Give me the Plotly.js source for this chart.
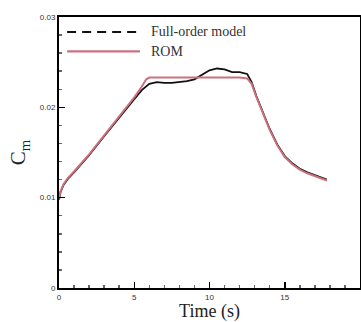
<!DOCTYPE html>
<html><head><meta charset="utf-8">
<script src="https://cdn.plot.ly/plotly-3.0.1.min.js"></script>
<style>html,body{margin:0;padding:0;background:#fff;}#plot{width:361px;height:322px;}</style>
</head><body><div id="plot"></div>
<script>
const tFull = [0, 0.1, 0.3, 0.6, 1.0, 1.5, 2, 3, 4, 4.5, 5, 5.5, 6, 6.5, 7, 7.5, 8, 8.5, 9, 9.5, 10, 10.5, 11, 11.5, 12, 12.5, 12.8, 13.1, 13.5, 14, 14.5, 15, 15.5, 16, 16.5, 17, 17.5, 17.8];
const cmFull = [0.0098, 0.0106, 0.0114, 0.0121, 0.0128, 0.0137, 0.0147, 0.0168, 0.0189, 0.0199, 0.0209, 0.0219, 0.0226, 0.0228, 0.0227, 0.0227, 0.0228, 0.0229, 0.0231, 0.0236, 0.0241, 0.0243, 0.0242, 0.0239, 0.0239, 0.0237, 0.0228, 0.0213, 0.0196, 0.0176, 0.0159, 0.0146, 0.0138, 0.0132, 0.0128, 0.0125, 0.0122, 0.0120];
const tRom = [0, 0.1, 0.3, 0.6, 1.0, 1.5, 2, 3, 4, 4.5, 5, 5.5, 5.8, 6, 7, 8, 9, 10, 11, 12, 12.5, 12.8, 13.1, 13.5, 14, 14.5, 15, 15.5, 16, 16.5, 17, 17.5, 17.8];
const cmRom = [0.0099, 0.0107, 0.0115, 0.0122, 0.0129, 0.0138, 0.0148, 0.0169, 0.0190, 0.0200, 0.0211, 0.0223, 0.0231, 0.0233, 0.0233, 0.0233, 0.0233, 0.0233, 0.0233, 0.0233, 0.0232, 0.0226, 0.0212, 0.0195, 0.0175, 0.0158, 0.0145, 0.0137, 0.0131, 0.0127, 0.0124, 0.0121, 0.0119];
const seriesNames = ["Full-order model", "ROM"];
const xTicks = [0, 5, 10, 15, 20];
const yTicks = [0, 0.01, 0.02, 0.03];
const yTickText = ["0", "0.01", "0.02", "0.03"];

const romColor = "rgb(204,112,128)";
const fullColor = "#111";
const serif = "Liberation Serif, Times New Roman, serif";
const traces = [
  {x: tFull, y: cmFull, mode: "lines", name: seriesNames[0], line: {color: fullColor, width: 1.8}, showlegend: false},
  {x: tRom, y: cmRom, mode: "lines", name: seriesNames[1], line: {color: romColor, width: 2}, showlegend: false}
];
const axisCommon = {
  showline: true, mirror: true, linecolor: "#000", linewidth: 2,
  ticks: "inside", ticklen: 6, tickwidth: 1.5, tickcolor: "#000",
  showgrid: false, zeroline: false,
  minor: {ticks: "inside", ticklen: 3, tickcolor: "#666", nticks: 5},
  tickfont: {family: "Liberation Sans, Arial, sans-serif", size: 8, color: "#333"}
};
// legend drawn as decoration in paper coordinates
const legRows = [0.945, 0.873];
const legendShapes = [
  {type: "line", xref: "paper", yref: "paper", x0: 0.027, x1: 0.269, y0: legRows[0], y1: legRows[0], line: {color: fullColor, width: 2, dash: "9px,6px"}},
  {type: "line", xref: "paper", yref: "paper", x0: 0.027, x1: 0.269, y0: legRows[1], y1: legRows[1], line: {color: romColor, width: 2.2}}
];
const legendText = seriesNames.map((n, i) => ({
  text: n, xref: "paper", yref: "paper", x: 0.298, y: legRows[i], xanchor: "left", yanchor: "middle",
  showarrow: false, font: {family: serif, size: 14, color: "#333"}
}));
const layout = {
  width: 361, height: 322,
  margin: {l: 59, r: 1, t: 17, b: 34},
  paper_bgcolor: "#fff", plot_bgcolor: "#fff",
  xaxis: Object.assign({}, axisCommon, {
    range: [0, 20], tickvals: xTicks, ticktext: xTicks.map(String),
    title: {text: "Time (s)", font: {family: serif, size: 18, color: "#222"}, standoff: 7}
  }),
  yaxis: Object.assign({}, axisCommon, {
    range: [0, 0.03], tickvals: yTicks, ticktext: yTickText,
    title: {text: "C<sub>m</sub>", font: {family: serif, size: 21, color: "#222"}, standoff: 8}
  }),
  shapes: legendShapes,
  annotations: legendText,
  showlegend: false
};
Plotly.newPlot("plot", traces, layout, {staticPlot: true, displayModeBar: false});
</script></body></html>
